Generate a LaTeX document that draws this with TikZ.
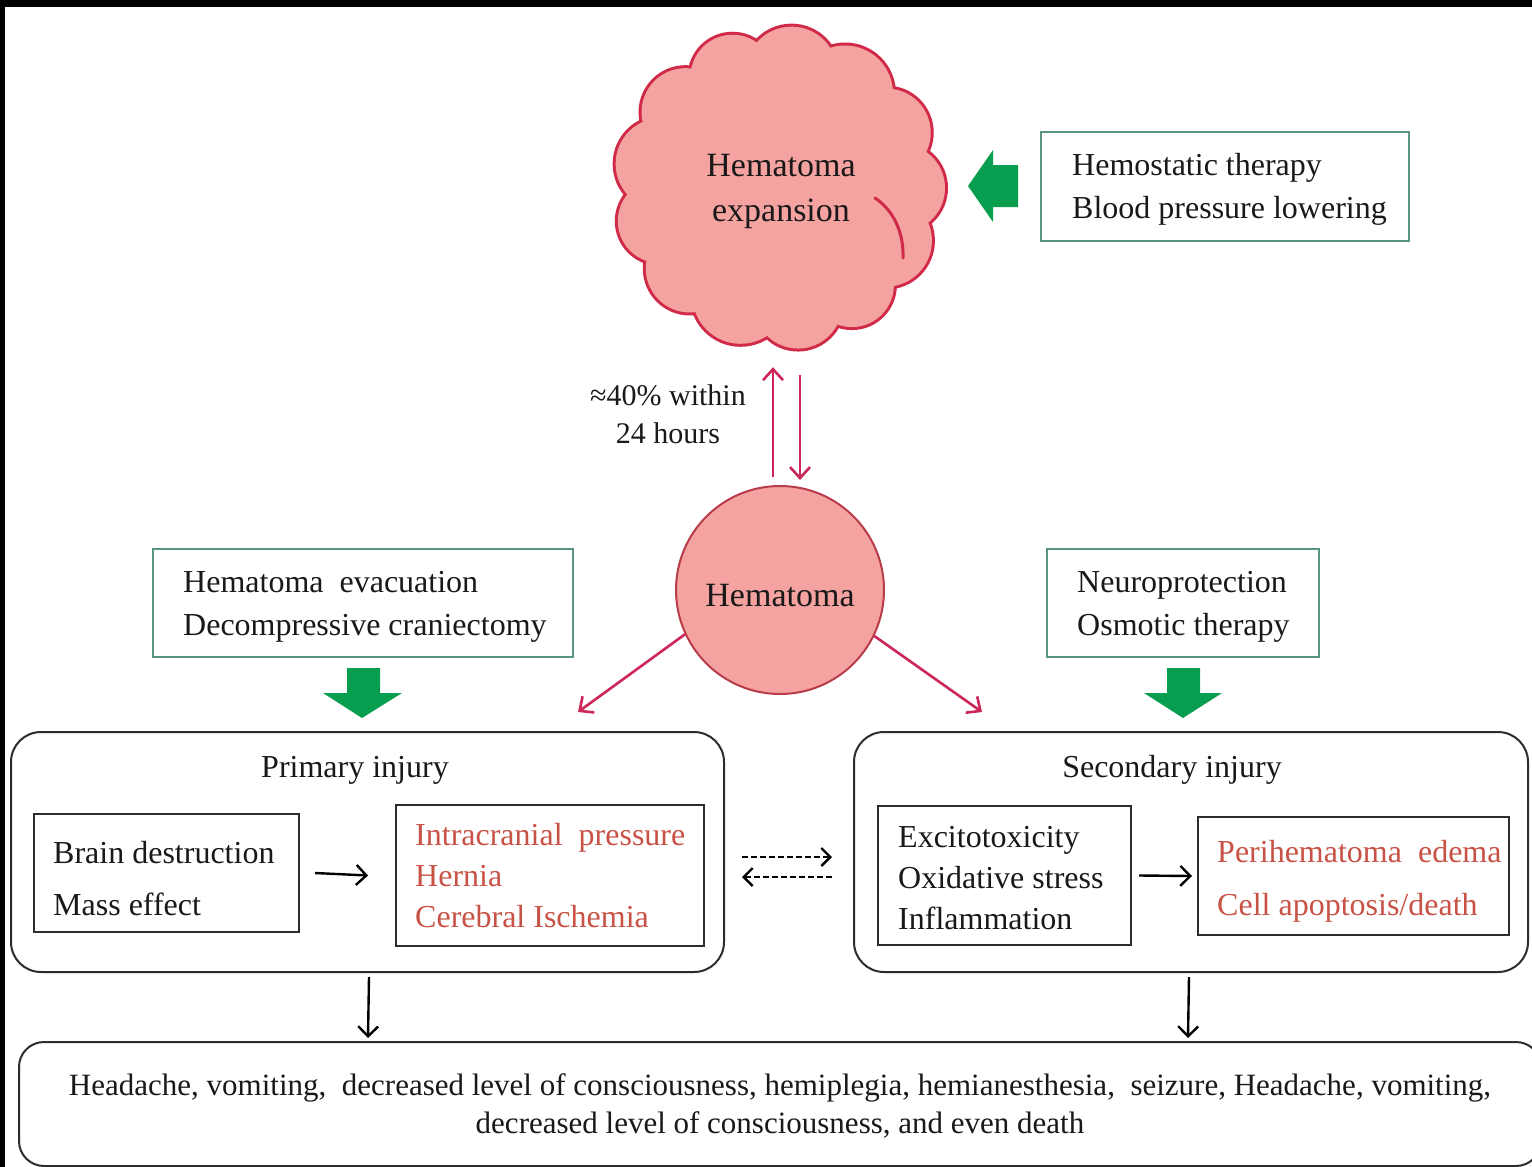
\documentclass[tikz,border=0pt]{standalone}
\usepackage{fontspec}
\setmainfont{Liberation Serif}
\usetikzlibrary{arrows.meta,calc}
\definecolor{pinkfill}{RGB}{244,163,160}
\definecolor{cloudline}{RGB}{208,42,72}
\definecolor{circline}{RGB}{185,60,75}
\definecolor{crim}{RGB}{205,38,88}
\definecolor{tealline}{RGB}{90,150,125}
\definecolor{gfill}{RGB}{8,158,80}
\definecolor{redtext}{RGB}{200,82,70}
\definecolor{boxline}{RGB}{45,45,45}
\definecolor{ink}{RGB}{25,25,25}
\begin{document}
\begin{tikzpicture}[x=1pt,y=-1pt,
  txt/.style={font=\fontsize{32}{43}\selectfont, text=ink, inner sep=0pt, align=left, anchor=west},
  tbox/.style={draw=tealline, line width=1.6pt, anchor=north west, inner sep=0pt},
  ibox/.style={draw=boxline, line width=2pt, anchor=north west, inner sep=0pt},
  rbox/.style={draw=boxline, line width=2pt, rounded corners=30pt, anchor=north west, inner sep=0pt},
  redarr/.style={draw=crim, line width=2.6pt, -{Straight Barb[length=11pt,width=20pt,line width=2.6pt]}},
  blkarr/.style={draw=black, line width=2.4pt, -{Straight Barb[length=10pt,width=20pt,line width=2.4pt]}},
  dasharr/.style={draw=black, line width=2.4pt, dash pattern=on 6pt off 3pt, -{Straight Barb[length=9pt,width=18pt,line width=2.4pt]}},
]
\useasboundingbox (0,0) rectangle (1532,1167);
\fill[white] (0,0) rectangle (1532,1167);
\fill[black] (0,0) rectangle (1532,7);
\fill[black] (0,0) rectangle (5,1167);

% ---- cloud: ring of puffs around an ellipse ----
\def\puffs{0/44, 27/46, 54/42, 81/44, 109/48, 137/44, 164/42, 192/46,
  220/44, 248/42, 276/46, 304/48, 332/44}
\foreach \a/\r in \puffs {\draw[cloudline, line width=6pt]
  ({779+(166-\r)*cos(\a)},{188+(162-\r)*sin(\a)}) circle[radius=\r pt];}
\foreach \a/\r in \puffs {\fill[pinkfill]
  ({779+(166-\r)*cos(\a)},{188+(162-\r)*sin(\a)}) circle[radius=\r pt];}
\fill[pinkfill] (779,188) ellipse[x radius=128pt, y radius=124pt];
\draw[cloudline, line width=3pt, line cap=round] (875,198) .. controls (893,210) and (904,232) .. (903,258);
\node[txt, anchor=center, align=center, font=\fontsize{34}{45}\selectfont,
  minimum width=330pt, minimum height=334pt] (cloud) at (781,191) {Hematoma\\expansion};

% ---- hemostatic therapy box and arrow ----
\node[tbox, minimum width=368pt, minimum height=109pt] (ther) at (1040,131) {};
\node[txt] (thertxt) at (1072,189.5) {Hemostatic therapy\\Blood pressure lowering};
\fill[gfill] (968,186) -- (993,150) -- (993,165) -- (1018,165) -- (1018,207) -- (993,207) -- (993,222) -- cycle;

% ---- hematoma ----
\node[circle, draw=circline, fill=pinkfill, line width=2pt, minimum size=208pt, inner sep=0pt] (hem) at (780,590) {};
\node[txt, anchor=center, font=\fontsize{34}{40}\selectfont] (hemt) at ([yshift=-6pt]hem.center) {Hematoma};
\draw[redarr] ([shift={(-7pt,8pt)}]hem.north) -- ([shift={(-8pt,-9pt)}]cloud.south);
\draw[redarr] ([shift={(19pt,-17pt)}]cloud.south) -- ([shift={(20pt,5pt)}]hem.north);
\node[txt, anchor=center, align=center, font=\fontsize{30}{38}\selectfont] (pct) at (668,414) {≈40\% within\\24 hours};

% ---- surgical and medical boxes ----
\node[tbox, minimum width=420pt, minimum height=108pt] (surg) at (152,548) {};
\node[txt] (surgtxt) at (183,606.5) {Hematoma\ \ evacuation\\Decompressive craniectomy};
\fill[gfill] (347,668) -- (380,668) -- (380,693) -- (402,693) -- (362,718) -- (323,693) -- (347,693) -- cycle;

\node[tbox, minimum width=272pt, minimum height=108pt] (neuro) at (1046,548) {};
\node[txt] (neurotxt) at (1077,606.5) {Neuroprotection\\Osmotic therapy};
\fill[gfill] (1167,668) -- (1200,668) -- (1200,693) -- (1222,693) -- (1183,718) -- (1144,693) -- (1167,693) -- cycle;

% ---- primary injury ----
\node[rbox, minimum width=713pt, minimum height=240pt] (prim) at (10,731) {};
\node[txt, anchor=center] (primt) at (355,770) {Primary injury};
\node[ibox, minimum width=265pt, minimum height=118pt] (b1) at (33,813) {};
\node[txt, font=\fontsize{32}{52}\selectfont] (b1t) at (53,879) {Brain destruction\\Mass effect};
\node[ibox, minimum width=308pt, minimum height=141pt] (b2) at (395,804) {};
\node[txt, text=redtext, font=\fontsize{32}{41}\selectfont] (b2t) at (415,876) {Intracranial\ \ pressure\\Hernia\\Cerebral Ischemia};
\draw[blkarr] ([xshift=15pt]b1.east) -- ([xshift=-27pt]b2.west);

% ---- secondary injury ----
\node[rbox, minimum width=674pt, minimum height=240pt] (sec) at (853,731) {};
\node[txt, anchor=center] (sect) at (1172,770) {Secondary injury};
\node[ibox, minimum width=253pt, minimum height=139pt] (b3) at (877,805) {};
\node[txt, font=\fontsize{32}{41}\selectfont] (b3t) at (898,878) {Excitotoxicity\\Oxidative stress\\Inflammation};
\node[ibox, minimum width=311pt, minimum height=118pt] (b4) at (1197,816) {};
\node[txt, text=redtext, font=\fontsize{32}{53}\selectfont] (b4t) at (1217,881.5) {Perihematoma\ \ edema\\Cell apoptosis/death};
\draw[blkarr] ([xshift=7pt]b3.east) -- ([xshift=-5pt]b4.west);

% ---- links between the two injuries ----
\draw[dasharr] ([shift={(17pt,-5pt)}]prim.east) -- ([shift={(-21pt,-5pt)}]sec.west);
\draw[dasharr] ([shift={(-21pt,-25pt)}]sec.west) -- ([shift={(17pt,-25pt)}]prim.east);

% ---- hematoma to injuries ----
\coordinate (ptip) at (578,712);
\coordinate (stip) at (982,712);
\draw[redarr] (hem.205.7) -- (ptip);
\draw[redarr] (hem.334.3) -- (stip);

% ---- clinical outcome ----
\node[rbox, rounded corners=25pt, minimum width=1522pt, minimum height=124pt] (bot) at (18,1041) {};
\node[txt, anchor=center, align=center, font=\fontsize{31}{38}\selectfont] (bott) at (780,1106)
  {Headache, vomiting,\ \ decreased level of consciousness, hemiplegia, hemianesthesia,\ \ seizure, Headache, vomiting,\\decreased level of consciousness, and even death};
\coordinate (ltip) at (368,1038);
\coordinate (rtip) at (1188,1038);
\draw[blkarr] ([shift={(1.5pt,-4pt)}]prim.south) -- (ltip);
\draw[blkarr] ([shift={(-2pt,-4pt)}]sec.south) -- (rtip);
\end{tikzpicture}
\end{document}
